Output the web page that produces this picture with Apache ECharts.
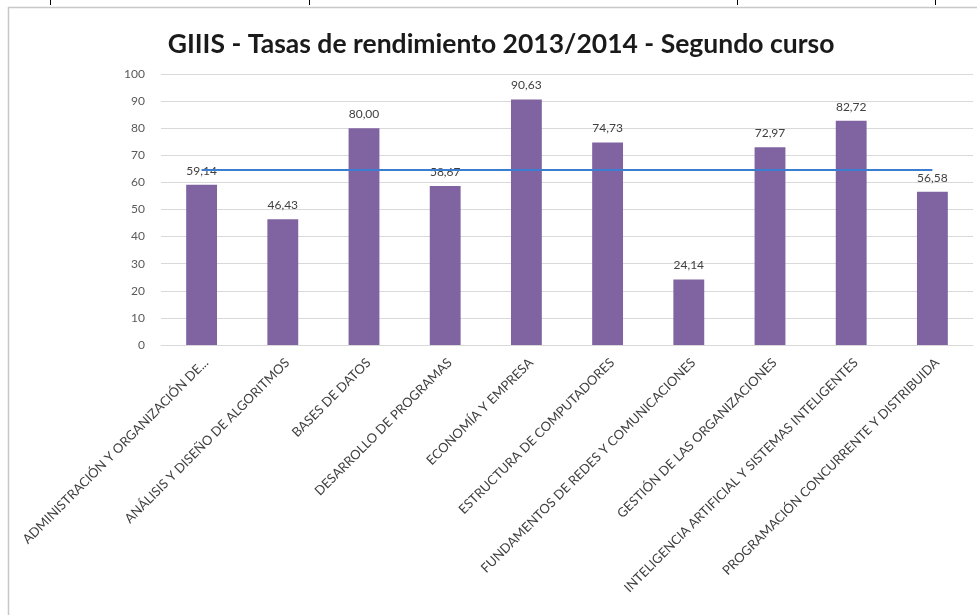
<!DOCTYPE html>
<html>
<head>
<meta charset="utf-8">
<script src="https://cdn.jsdelivr.net/npm/echarts@6/dist/echarts.min.js"></script>
<style>
  html, body { margin: 0; padding: 0; background: #ffffff; }
  #chart { width: 977px; height: 615px; }
</style>
</head>
<body>
<div id="chart"></div>
<script>
// Subjects of the second year
const categories = [
  'ADMINISTRACIÓN Y ORGANIZACIÓN DE...',
  'ANÁLISIS Y DISEÑO DE ALGORITMOS',
  'BASES DE DATOS',
  'DESARROLLO DE PROGRAMAS',
  'ECONOMÍA Y EMPRESA',
  'ESTRUCTURA DE COMPUTADORES',
  'FUNDAMENTOS DE REDES Y COMUNICACIONES',
  'GESTIÓN DE LAS ORGANIZACIONES',
  'INTELIGENCIA ARTIFICIAL Y SISTEMAS INTELIGENTES',
  'PROGRAMACIÓN CONCURRENTE Y DISTRIBUIDA'
];

// Performance rate (%) per subject
const rates = [59.14, 46.43, 80.00, 58.67, 90.63, 74.73, 24.14, 72.97, 82.72, 56.58];

// Course average, drawn as a flat reference line
const averageLine = [64.60, 64.60, 64.60, 64.60, 64.60, 64.60, 64.60, 64.60, 64.60, 64.60];

const yTicks = { min: 0, max: 100, interval: 10 };

const chart = echarts.init(document.getElementById('chart'), null, { renderer: 'canvas' });

const fmt = v => v.toFixed(2).replace('.', ',');

chart.setOption({
  animation: false,
  backgroundColor: '#ffffff',
  title: {
    text: 'GIIIS - Tasas de rendimiento 2013/2014 - Segundo curso',
    left: 496,
    top: 26,
    textAlign: 'center',
    textStyle: {
      fontFamily: 'Lato',
      fontWeight: 'bold',
      fontSize: 26.5,
      color: '#1a1a1a'
    }
  },
  graphic: [
    { type: 'line', shape: { x1: 8, y1: 7.5, x2: 977, y2: 7.5 }, style: { stroke: '#c8c8c8', lineWidth: 1.5 } },
    { type: 'line', shape: { x1: 8.5, y1: 7, x2: 8.5, y2: 615 }, style: { stroke: '#c8c8c8', lineWidth: 1.5 } },
    { type: 'line', shape: { x1: 50.5, y1: 0, x2: 50.5, y2: 5 }, style: { stroke: '#000', lineWidth: 1 } },
    { type: 'line', shape: { x1: 309.5, y1: 0, x2: 309.5, y2: 5 }, style: { stroke: '#000', lineWidth: 1 } },
    { type: 'line', shape: { x1: 737.5, y1: 0, x2: 737.5, y2: 5 }, style: { stroke: '#000', lineWidth: 1 } },
    { type: 'line', shape: { x1: 935.5, y1: 0, x2: 935.5, y2: 5 }, style: { stroke: '#000', lineWidth: 1 } }
  ],
  grid: { left: 161, right: 4, top: 74, bottom: 270, containLabel: false },
  xAxis: {
    type: 'category',
    data: categories,
    axisLine: { show: true, lineStyle: { color: '#d9d9d9', width: 1 } },
    axisTick: { show: false },
    axisLabel: {
      interval: 0,
      rotate: 45,
      margin: 11,
      verticalAlign: 'top',
      fontFamily: 'Lato',
      fontSize: 13,
      color: '#404040'
    }
  },
  yAxis: {
    type: 'value',
    min: yTicks.min,
    max: yTicks.max,
    interval: yTicks.interval,
    axisLine: { show: false },
    axisTick: { show: false },
    splitLine: { lineStyle: { color: '#d9d9d9', width: 1 } },
    axisLabel: {
      margin: 16,
      fontFamily: 'Lato',
      fontSize: 12,
      color: '#595959'
    }
  },
  series: [
    {
      type: 'bar',
      data: rates,
      barWidth: '38%',
      itemStyle: { color: '#8064a2' },
      label: {
        show: true,
        position: 'top',
        distance: 8,
        formatter: p => fmt(p.value),
        fontFamily: 'Lato',
        fontSize: 12,
        color: '#404040'
      },
      z: 2
    },
    {
      type: 'line',
      data: averageLine,
      symbol: 'none',
      lineStyle: { color: '#3b7dd0', width: 2 },
      z: 3
    }
  ]
});
</script>
</body>
</html>
